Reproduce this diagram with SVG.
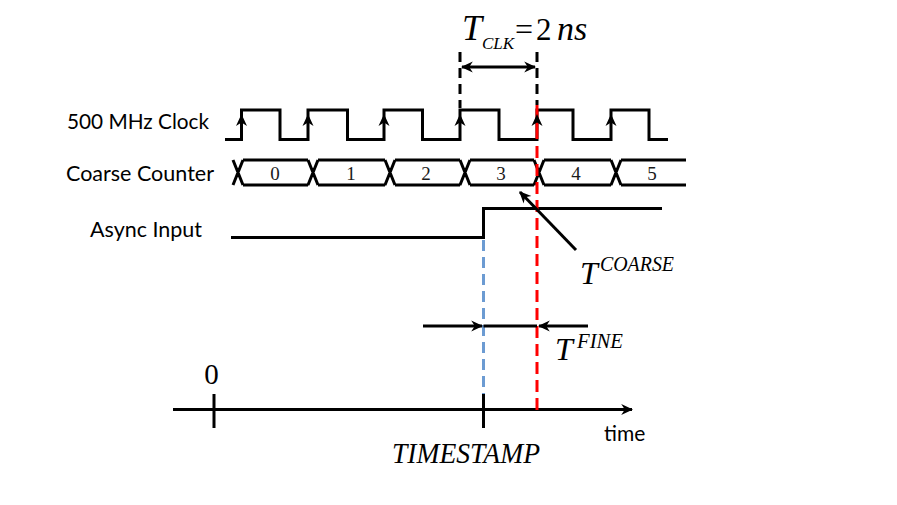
<svg xmlns="http://www.w3.org/2000/svg" width="897" height="505" viewBox="0 0 897 505">
<style>
.lbl{font-family:Lato,"Liberation Sans",sans-serif;font-size:21px;fill:#000}
.ser{font-family:"Liberation Serif",serif;fill:#000}
.it{font-style:italic}
.cnt{font-family:"Liberation Serif",serif;font-size:19px;fill:#1a1a1a;text-anchor:middle}
.w{fill:none;stroke:#000;stroke-width:3}
.dk{fill:none;stroke:#000;stroke-width:3;stroke-dasharray:10,6}
.red{fill:none;stroke:#ff0000;stroke-width:3;stroke-dasharray:12,6}
.blue{fill:none;stroke:#6c9bd2;stroke-width:3;stroke-dasharray:11,6}
.ar{fill:none;stroke:#000;stroke-width:3}
</style>
<defs>
<marker id="ah" viewBox="0 0 10 10" refX="9" refY="5" markerWidth="12" markerHeight="12" markerUnits="userSpaceOnUse" orient="auto-start-reverse">
<path d="M0,0.5 L10,5 L0,9.5 L3,5 z" fill="#000"/>
</marker>
</defs>
<rect width="897" height="505" fill="#fff"/>
<g id="labels">
<text class="lbl" x="67" y="129" textLength="142" lengthAdjust="spacingAndGlyphs">500 MHz Clock</text>
<text class="lbl" x="66" y="181" textLength="148" lengthAdjust="spacingAndGlyphs">Coarse Counter</text>
<text class="lbl" x="90" y="237" textLength="112" lengthAdjust="spacingAndGlyphs">Async Input</text>
</g>
<g id="clock">
<path class="w" d="M225,139.5 H241.5 V110 H280 V139.5 H308 V110 H347.5 V139.5 H384 V110 H422.5 V139.5 H460 V110 H499 V139.5 H537 V110 H573 V139.5 H611 V110 H649 V139.5 H668"/>
<g fill="#000">
<path d="M241.5,114 L247,126 L241.5,122.5 L236,126 z"/>
<path d="M308,114 L313.5,126 L308,122.5 L302.5,126 z"/>
<path d="M384,114 L389.5,126 L384,122.5 L378.5,126 z"/>
<path d="M460,114 L465.5,126 L460,122.5 L454.5,126 z"/>
<path d="M611,114 L616.5,126 L611,122.5 L605.5,126 z"/>
</g>
</g>
<g id="counter">
<path class="w" d="M233,160 L243,185 M233,185 L243,160 M308,160 L318,185 M308,185 L318,160 M385,160 L395,185 M385,185 L395,160 M460,160 L470,185 M460,185 L470,160 M534,160 L544,185 M534,185 L544,160 M611,160 L621,185 M611,185 L621,160 M243,160 H308 M243,185 H308 M318,160 H385 M318,185 H385 M395,160 H460 M395,185 H460 M470,160 H534 M470,185 H534 M544,160 H611 M544,185 H611 M621,160 H686 M621,185 H686"/>
<text class="cnt" x="275" y="180">0</text>
<text class="cnt" x="351" y="180">1</text>
<text class="cnt" x="426" y="180">2</text>
<text class="cnt" x="501" y="180">3</text>
<text class="cnt" x="576" y="180">4</text>
<text class="cnt" x="652" y="180">5</text>
</g>
<g id="async">
<path class="w" d="M231,237.5 H483.5 V208.5 H662"/>
</g>
<g id="timeline">
<line class="ar" x1="173" y1="409.5" x2="632" y2="409.5" marker-end="url(#ah)"/>
<line class="w" x1="214" y1="394" x2="214" y2="428"/>
<line class="w" x1="483.5" y1="394" x2="483.5" y2="428"/>
<text class="ser" x="211.5" y="384" font-size="29" text-anchor="middle">0</text>
<text class="lbl" x="604" y="441">time</text>
<text class="ser it" x="392" y="463" font-size="29" textLength="148" lengthAdjust="spacingAndGlyphs">TIMESTAMP</text>
</g>
<g id="tclk-label">
<text class="ser it" x="462" y="40" font-size="36">T</text>
<text class="ser it" x="482" y="49" font-size="17">CLK</text>
<text class="ser" x="515" y="40" font-size="32">=</text>
<text class="ser" x="536" y="40" font-size="31">2</text>
<text class="ser it" x="557" y="40" font-size="34">ns</text>
</g>
<g id="tcoarse-label">
<text class="ser it" x="580" y="284" font-size="32">T</text>
<text class="ser it" x="600" y="271" font-size="20" textLength="74" lengthAdjust="spacingAndGlyphs">COARSE</text>
</g>
<g id="tfine-label">
<text class="ser it" x="555" y="360" font-size="32">T</text>
<text class="ser it" x="577" y="348" font-size="20" textLength="46" lengthAdjust="spacingAndGlyphs">FINE</text>
</g>
<g id="connectors">
<line class="dk" x1="460" y1="52" x2="460" y2="108"/>
<line class="dk" x1="537" y1="52" x2="537" y2="105"/>
<line class="ar" x1="462" y1="67" x2="535" y2="67" marker-start="url(#ah)" marker-end="url(#ah)"/>
<line x1="537" y1="105" x2="537" y2="139" stroke="#ff0000" stroke-width="3"/>
<line class="red" x1="537" y1="146" x2="537" y2="410"/>
<line class="blue" x1="483.5" y1="240" x2="483.5" y2="394"/>
<line class="ar" x1="423" y1="326" x2="482" y2="326" marker-end="url(#ah)"/>
<line class="w" x1="483.5" y1="326" x2="537" y2="326"/>
<line class="ar" x1="588" y1="326" x2="539" y2="326" marker-end="url(#ah)"/>
<line class="ar" x1="576" y1="250" x2="520" y2="192" marker-end="url(#ah)"/>
<path d="M537,114 L542.5,126 L537,122.5 L531.5,126 z" fill="#000"/>
</g>
</svg>
